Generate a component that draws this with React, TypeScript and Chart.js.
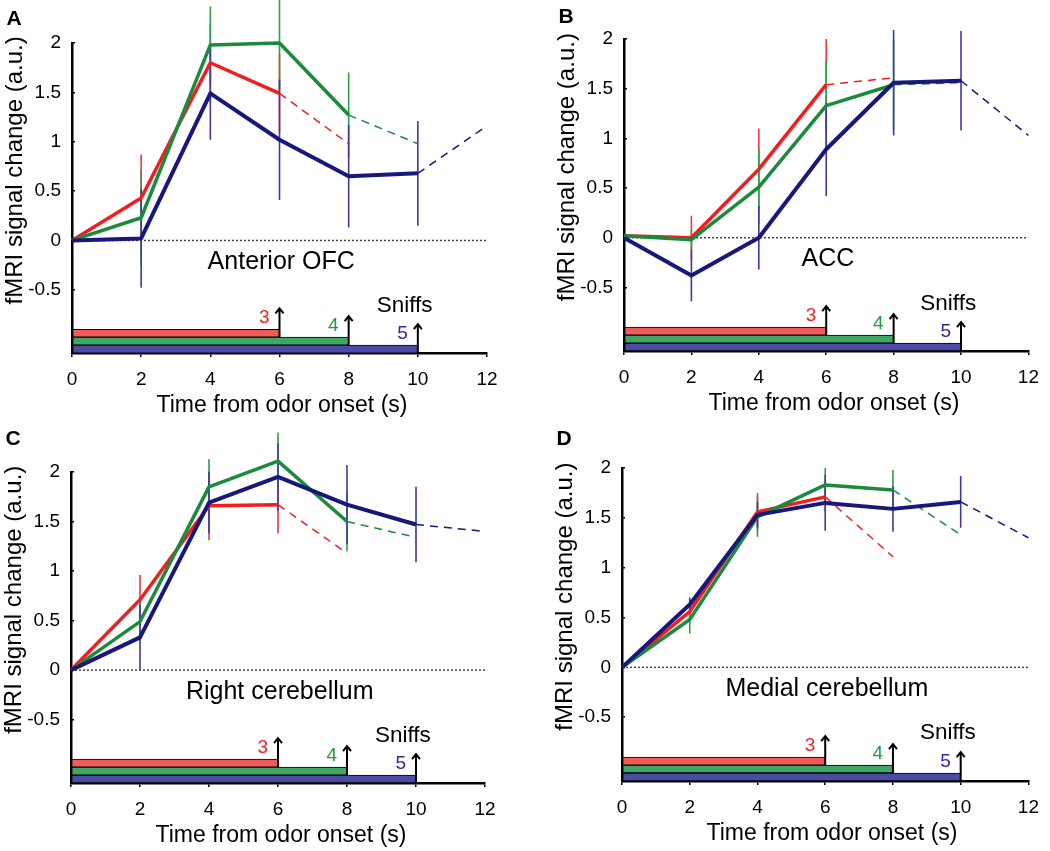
import React, { useEffect, useRef } from "react";
import { Chart, registerables } from "chart.js";

Chart.register(...registerables);

const FONT = "'Liberation Sans', Arial, Helvetica, sans-serif";

// ---------------- data ----------------
const timeSec = [0, 2, 4, 6, 8, 10, 12];
const yTickValues = [-0.5, 0, 0.5, 1, 1.5, 2];
const sniffCounts = ["3", "4", "5"];
const sniffEndSec = [6, 8, 10];

// Panel A – Anterior OFC
const redA = [0, 0.43, 1.8, 1.49, 0.98];
const greenA = [0, 0.23, 1.98, 2.0, 1.27, 0.98];
const blueA = [0, 0.02, 1.49, 1.02, 0.65, 0.68, 1.16];
const redErrA = [null, 0.44, 0.4, 0.4, null];
const greenErrA = [null, 0.48, 0.39, 0.47, 0.43, null];
const blueErrA = [null, 0.5, 0.47, 0.61, 0.52, 0.53, null];

// Panel B – ACC
const redB = [0.02, 0.0, 0.69, 1.54, 1.61];
const greenB = [0.02, -0.02, 0.51, 1.33, 1.54, 1.56];
const blueB = [0.0, -0.38, 0.0, 0.89, 1.56, 1.58, 1.03];
const redErrB = [null, 0.22, 0.41, 0.46, null];
const greenErrB = [null, 0.1, 0.38, 0.44, 0.45, null];
const blueErrB = [null, 0.26, 0.32, 0.47, 0.53, 0.5, null];

// Panel C – Right cerebellum
const redC = [0, 0.71, 1.66, 1.67, 1.18];
const greenC = [0, 0.49, 1.85, 2.11, 1.5, 1.34];
const blueC = [0, 0.33, 1.69, 1.95, 1.67, 1.47, 1.4];
const redErrC = [null, 0.25, 0.35, 0.29, null];
const greenErrC = [null, 0.2, 0.28, 0.29, 0.3, null];
const blueErrC = [null, 0.33, 0.31, 0.34, 0.4, 0.38, null];

// Panel D – Medial cerebellum
const redD = [0, 0.56, 1.56, 1.71, 1.11];
const greenD = [0, 0.48, 1.51, 1.83, 1.78, 1.33];
const blueD = [0, 0.63, 1.53, 1.65, 1.59, 1.66, 1.3];
const redErrD = [null, 0.1, 0.19, 0.15, null];
const greenErrD = [null, 0.14, 0.2, 0.17, 0.2, null];
const blueErrD = [null, 0.07, 0.13, 0.28, 0.23, 0.26, null];

// ---------------- styles / layout ----------------
const LINE_COLORS = ["#f41c1c", "#1c8a3c", "#17177c"];
const ERR_COLORS = ["#f03838", "#2f9f4a", "#3b3ba3"];
const BAR_COLORS = ["#f45a5a", "#3fa766", "#4b4ba6"];
const COUNT_COLORS = ["#f52020", "#259a3c", "#2a2a9c"];
const SNIFF_BAR_LEVELS = [-0.94, -1.02, -1.1];
const Y_MIN = -1.14;
const Y_MAX = 2;

type Panel = {
  letter: string;
  region: string;
  red: number[];
  green: number[];
  blue: number[];
  redErr: (number | null)[];
  greenErr: (number | null)[];
  blueErr: (number | null)[];
  left: number;
  top: number;
  area: { L: number; R: number; T: number; B: number };
  letterY: number;
};

const panels: Panel[] = [
  { letter: "A", region: "Anterior OFC", red: redA, green: greenA, blue: blueA, redErr: redErrA, greenErr: greenErrA, blueErr: blueErrA, left: 0, top: 0, area: { L: 72, R: 487, T: 43, B: 353 }, letterY: 19 },
  { letter: "B", region: "ACC", red: redB, green: greenB, blue: blueB, redErr: redErrB, greenErr: greenErrB, blueErr: blueErrB, left: 525, top: 0, area: { L: 99, R: 512, T: 39, B: 351 }, letterY: 17 },
  { letter: "C", region: "Right cerebellum", red: redC, green: greenC, blue: blueC, redErr: redErrC, greenErr: greenErrC, blueErr: blueErrC, left: 0, top: 425, area: { L: 71, R: 485, T: 47, B: 358 }, letterY: 14 },
  { letter: "D", region: "Medial cerebellum", red: redD, green: greenD, blue: blueD, redErr: redErrD, greenErr: greenErrD, blueErr: blueErrD, left: 525, top: 425, area: { L: 97, R: 511, T: 43, B: 356 }, letterY: 14 },
];

const W = 525;
const H = 425;
const Y_AXIS_W = 50;
const X_AXIS_H = 40;

function pts(values: number[], from: number, to: number) {
  const out: any[] = [];
  for (let i = from; i <= to; i++) out.push({ x: timeSec[i], y: values[i] });
  return out;
}

function errPts(values: number[], errs: (number | null)[]) {
  const out: any[] = [];
  errs.forEach((e, i) => {
    if (e == null) return;
    out.push({ x: timeSec[i], y: values[i] - e });
    out.push({ x: timeSec[i], y: values[i] + e });
    out.push({ x: timeSec[i], y: null });
  });
  return out;
}

function annotations(p: Panel) {
  return {
    id: "annot" + p.letter,
    afterDraw(chart: any) {
      const { ctx, chartArea: ca, scales } = chart;
      const xs = scales.x;
      const ys = scales.y;
      ctx.save();
      ctx.fillStyle = "#000";
      ctx.textAlign = "center";
      ctx.textBaseline = "middle";
      // panel letter
      ctx.font = `bold 21px ${FONT}`;
      ctx.fillText(p.letter, ca.left - 58, p.letterY);
      // y title
      ctx.save();
      ctx.translate(ca.left - 57, ys.getPixelForValue(0.71));
      ctx.rotate(-Math.PI / 2);
      ctx.font = `24px ${FONT}`;
      ctx.fillText("fMRI signal change (a.u.)", 0, 0);
      ctx.restore();
      // x title
      ctx.font = `23px ${FONT}`;
      ctx.fillText("Time from odor onset (s)", ca.left + 210, ca.bottom + 53);
      // region label
      ctx.font = `25px ${FONT}`;
      ctx.fillText(p.region, xs.getPixelForValue(6.05), ys.getPixelForValue(-0.22));
      // Sniffs
      ctx.font = `22.5px ${FONT}`;
      ctx.fillText("Sniffs", xs.getPixelForValue(9.62), ys.getPixelForValue(-0.66));
      // arrows + counts
      ctx.strokeStyle = "#000";
      ctx.lineWidth = 2;
      for (let i = 0; i < sniffEndSec.length; i++) {
        const x = xs.getPixelForValue(sniffEndSec[i]);
        const c = ys.getPixelForValue(SNIFF_BAR_LEVELS[i]);
        const barTop = c - 4;
        const barBottom = c + 4;
        const tip = barTop - 21;
        ctx.beginPath();
        ctx.moveTo(x, barBottom);
        ctx.lineTo(x, tip);
        ctx.moveTo(x - 4, tip + 5);
        ctx.lineTo(x, tip);
        ctx.lineTo(x + 4, tip + 5);
        ctx.stroke();
        ctx.fillStyle = COUNT_COLORS[i];
        ctx.font = `19px ${FONT}`;
        ctx.textAlign = "right";
        ctx.fillText(sniffCounts[i], x - 10, barTop - 11);
      }
      ctx.restore();
    },
  };
}

function buildConfig(p: Panel) {
  const series = [p.red, p.green, p.blue];
  const errs = [p.redErr, p.greenErr, p.blueErr];
  const lineDs: any[] = [];
  // top-most first: blue, green, red
  for (const k of [2, 1, 0]) {
    const v = series[k];
    const n = v.length;
    lineDs.push({
      type: "line",
      data: pts(v, 0, n - 2),
      borderColor: LINE_COLORS[k],
      borderWidth: k === 2 ? 4 : 3.5,
      pointRadius: 0,
      tension: 0,
      clip: false,
      borderJoinStyle: "round",
    });
    lineDs.push({
      type: "line",
      data: pts(v, n - 2, n - 1),
      borderColor: LINE_COLORS[k],
      borderWidth: 1.5,
      borderDash: [8, 6],
      pointRadius: 0,
      tension: 0,
      clip: false,
    });
  }
  const errDs: any[] = [];
  for (const k of [2, 1, 0]) {
    errDs.push({
      type: "line",
      data: errPts(series[k], errs[k]),
      borderColor: ERR_COLORS[k],
      borderWidth: 1.6,
      pointRadius: 0,
      spanGaps: false,
      clip: false,
    });
  }
  const barDs = {
    type: "bar",
    indexAxis: "y",
    grouped: false,
    barThickness: 8,
    data: sniffEndSec.map((t, i) => ({ x: [0, t], y: SNIFF_BAR_LEVELS[i] })),
    backgroundColor: BAR_COLORS,
    borderColor: "#000",
    borderWidth: 1,
    borderSkipped: false,
    clip: false,
  };
  const zeroDs = {
    type: "line",
    data: [
      { x: timeSec[0], y: 0 },
      { x: timeSec[timeSec.length - 1], y: 0 },
    ],
    borderColor: "#444",
    borderWidth: 1.5,
    borderDash: [2, 2],
    pointRadius: 0,
  };
  const a = p.area;
  return {
    type: "line",
    data: { datasets: [...lineDs, ...errDs, barDs, zeroDs] },
    options: {
      responsive: false,
      animation: false,
      devicePixelRatio: 1,
      events: [],
      parsing: true,
      layout: {
        padding: {
          left: a.L - Y_AXIS_W,
          right: W - a.R,
          top: a.T,
          bottom: H - a.B - X_AXIS_H,
        },
      },
      plugins: { legend: { display: false }, tooltip: { enabled: false }, title: { display: false } },
      scales: {
        x: {
          type: "linear",
          min: 0,
          max: 12,
          offset: false,
          afterBuildTicks: (s: any) => {
            s.ticks = timeSec.map((v) => ({ value: v }));
          },
          afterFit: (s: any) => {
            s.height = X_AXIS_H;
          },
          ticks: {
            autoSkip: false,
            maxRotation: 0,
            color: "#000",
            padding: 11,
            font: { family: FONT, size: 19 },
            callback: (v: any) => String(v),
          },
          grid: { display: true, drawOnChartArea: false, drawTicks: true, tickLength: 4, color: "#000", lineWidth: 1.5, offset: false },
          border: { display: true, color: "#000", width: 2.5 },
        },
        y: {
          type: "linear",
          min: Y_MIN,
          max: Y_MAX,
          offset: false,
          afterBuildTicks: (s: any) => {
            s.ticks = yTickValues.map((v) => ({ value: v }));
          },
          afterFit: (s: any) => {
            s.width = Y_AXIS_W;
          },
          ticks: {
            color: "#000",
            padding: 14,
            font: { family: FONT, size: 19 },
            callback: (v: any) => String(v),
          },
          grid: { display: true, drawOnChartArea: false, drawTicks: true, tickLength: -3, color: "#000", lineWidth: 1.5, offset: false },
          border: { display: true, color: "#000", width: 2.5 },
        },
      },
    },
    plugins: [annotations(p)],
  };
}

function PanelChart({ p }: { p: Panel }) {
  const ref = useRef<HTMLCanvasElement | null>(null);
  useEffect(() => {
    if (!ref.current) return;
    const chart = new Chart(ref.current, buildConfig(p) as any);
    return () => chart.destroy();
  }, [p]);
  return (
    <canvas
      ref={ref}
      width={W}
      height={H}
      style={{ position: "absolute", left: p.left, top: p.top, width: W, height: H }}
    />
  );
}

export default function App() {
  return (
    <div style={{ position: "absolute", left: 0, top: 0, width: 1050, height: 851, background: "#fff", overflow: "hidden" }}>
      {panels.map((p) => (
        <PanelChart key={p.letter} p={p} />
      ))}
    </div>
  );
}
